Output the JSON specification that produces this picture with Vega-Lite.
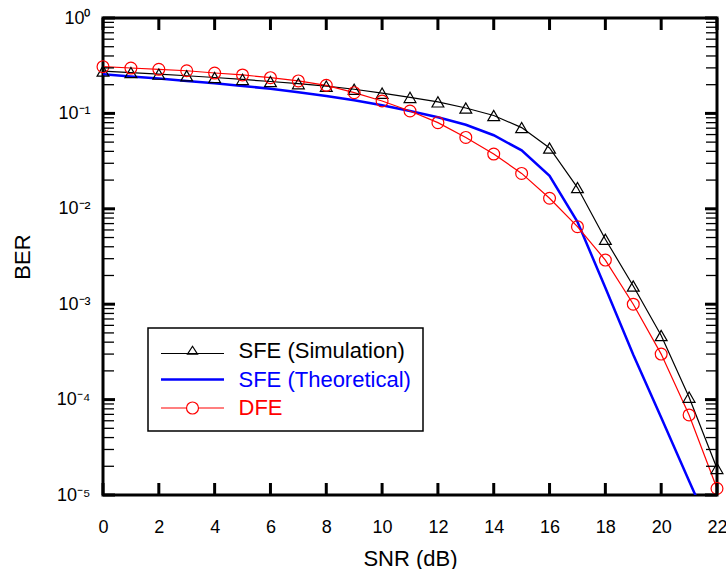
{
  "$schema": "https://vega.github.io/schema/vega-lite/v6.json",
  "width": 614,
  "height": 477,
  "autosize": {"type": "none"},
  "padding": {"left": 103, "top": 18, "right": 9, "bottom": 74},
  "background": "white",
  "config": {
    "view": {"stroke": "black", "strokeWidth": 3},
    "font": "Liberation Sans",
    "axis": {"grid": false, "domain": false, "ticks": false, "tickSize": 0, "labelFont": "Liberation Sans", "titleFont": "Liberation Sans", "labelColor": "black", "titleColor": "black", "titleFontWeight": "normal"}
  },
  "datasets": {
    "curves": [
      {"snr": 0, "ber": 0.278, "series": "SFE (Simulation)"},
      {"snr": 1, "ber": 0.268, "series": "SFE (Simulation)"},
      {"snr": 2, "ber": 0.258, "series": "SFE (Simulation)"},
      {"snr": 3, "ber": 0.248, "series": "SFE (Simulation)"},
      {"snr": 4, "ber": 0.238, "series": "SFE (Simulation)"},
      {"snr": 5, "ber": 0.227, "series": "SFE (Simulation)"},
      {"snr": 6, "ber": 0.216, "series": "SFE (Simulation)"},
      {"snr": 7, "ber": 0.205, "series": "SFE (Simulation)"},
      {"snr": 8, "ber": 0.193, "series": "SFE (Simulation)"},
      {"snr": 9, "ber": 0.179, "series": "SFE (Simulation)"},
      {"snr": 10, "ber": 0.163, "series": "SFE (Simulation)"},
      {"snr": 11, "ber": 0.147, "series": "SFE (Simulation)"},
      {"snr": 12, "ber": 0.132, "series": "SFE (Simulation)"},
      {"snr": 13, "ber": 0.114, "series": "SFE (Simulation)"},
      {"snr": 14, "ber": 0.095, "series": "SFE (Simulation)"},
      {"snr": 15, "ber": 0.071, "series": "SFE (Simulation)"},
      {"snr": 16, "ber": 0.0434, "series": "SFE (Simulation)"},
      {"snr": 17, "ber": 0.0167, "series": "SFE (Simulation)"},
      {"snr": 18, "ber": 0.0048, "series": "SFE (Simulation)"},
      {"snr": 19, "ber": 0.00155, "series": "SFE (Simulation)"},
      {"snr": 20, "ber": 0.00047, "series": "SFE (Simulation)"},
      {"snr": 21, "ber": 0.000106, "series": "SFE (Simulation)"},
      {"snr": 22, "ber": 0.000019, "series": "SFE (Simulation)"},
      {"snr": 0, "ber": 0.257, "series": "SFE (Theoretical)"},
      {"snr": 1, "ber": 0.244, "series": "SFE (Theoretical)"},
      {"snr": 2, "ber": 0.232, "series": "SFE (Theoretical)"},
      {"snr": 3, "ber": 0.219, "series": "SFE (Theoretical)"},
      {"snr": 4, "ber": 0.207, "series": "SFE (Theoretical)"},
      {"snr": 5, "ber": 0.194, "series": "SFE (Theoretical)"},
      {"snr": 6, "ber": 0.181, "series": "SFE (Theoretical)"},
      {"snr": 7, "ber": 0.167, "series": "SFE (Theoretical)"},
      {"snr": 8, "ber": 0.152, "series": "SFE (Theoretical)"},
      {"snr": 9, "ber": 0.137, "series": "SFE (Theoretical)"},
      {"snr": 10, "ber": 0.122, "series": "SFE (Theoretical)"},
      {"snr": 11, "ber": 0.106, "series": "SFE (Theoretical)"},
      {"snr": 12, "ber": 0.091, "series": "SFE (Theoretical)"},
      {"snr": 13, "ber": 0.076, "series": "SFE (Theoretical)"},
      {"snr": 14, "ber": 0.059, "series": "SFE (Theoretical)"},
      {"snr": 15, "ber": 0.041, "series": "SFE (Theoretical)"},
      {"snr": 16, "ber": 0.0222, "series": "SFE (Theoretical)"},
      {"snr": 17, "ber": 0.0073, "series": "SFE (Theoretical)"},
      {"snr": 18, "ber": 0.00149, "series": "SFE (Theoretical)"},
      {"snr": 19, "ber": 0.000295, "series": "SFE (Theoretical)"},
      {"snr": 20, "ber": 0.000065, "series": "SFE (Theoretical)"},
      {"snr": 21, "ber": 0.000014, "series": "SFE (Theoretical)"},
      {"snr": 22, "ber": 0.0000031, "series": "SFE (Theoretical)"},
      {"snr": 0, "ber": 0.309, "series": "DFE"},
      {"snr": 1, "ber": 0.299, "series": "DFE"},
      {"snr": 2, "ber": 0.29, "series": "DFE"},
      {"snr": 3, "ber": 0.28, "series": "DFE"},
      {"snr": 4, "ber": 0.265, "series": "DFE"},
      {"snr": 5, "ber": 0.253, "series": "DFE"},
      {"snr": 6, "ber": 0.237, "series": "DFE"},
      {"snr": 7, "ber": 0.219, "series": "DFE"},
      {"snr": 8, "ber": 0.197, "series": "DFE"},
      {"snr": 9, "ber": 0.165, "series": "DFE"},
      {"snr": 10, "ber": 0.135, "series": "DFE"},
      {"snr": 11, "ber": 0.106, "series": "DFE"},
      {"snr": 12, "ber": 0.08, "series": "DFE"},
      {"snr": 13, "ber": 0.056, "series": "DFE"},
      {"snr": 14, "ber": 0.0375, "series": "DFE"},
      {"snr": 15, "ber": 0.0235, "series": "DFE"},
      {"snr": 16, "ber": 0.0129, "series": "DFE"},
      {"snr": 17, "ber": 0.0065, "series": "DFE"},
      {"snr": 18, "ber": 0.0029, "series": "DFE"},
      {"snr": 19, "ber": 0.001, "series": "DFE"},
      {"snr": 20, "ber": 0.0003, "series": "DFE"},
      {"snr": 21, "ber": 0.000069, "series": "DFE"},
      {"snr": 22, "ber": 0.0000117, "series": "DFE"}
    ],
    "yticks": [
      {"ber": 1, "major": true}, {"ber": 0.9, "major": false}, {"ber": 0.8, "major": false}, {"ber": 0.7, "major": false}, {"ber": 0.6, "major": false}, {"ber": 0.5, "major": false}, {"ber": 0.4, "major": false}, {"ber": 0.3, "major": false}, {"ber": 0.2, "major": false},
      {"ber": 0.1, "major": true}, {"ber": 0.09, "major": false}, {"ber": 0.08, "major": false}, {"ber": 0.07, "major": false}, {"ber": 0.06, "major": false}, {"ber": 0.05, "major": false}, {"ber": 0.04, "major": false}, {"ber": 0.03, "major": false}, {"ber": 0.02, "major": false},
      {"ber": 0.01, "major": true}, {"ber": 0.009, "major": false}, {"ber": 0.008, "major": false}, {"ber": 0.007, "major": false}, {"ber": 0.006, "major": false}, {"ber": 0.005, "major": false}, {"ber": 0.004, "major": false}, {"ber": 0.003, "major": false}, {"ber": 0.002, "major": false},
      {"ber": 0.001, "major": true}, {"ber": 0.0009, "major": false}, {"ber": 0.0008, "major": false}, {"ber": 0.0007, "major": false}, {"ber": 0.0006, "major": false}, {"ber": 0.0005, "major": false}, {"ber": 0.0004, "major": false}, {"ber": 0.0003, "major": false}, {"ber": 0.0002, "major": false},
      {"ber": 0.0001, "major": true}, {"ber": 0.00009, "major": false}, {"ber": 0.00008, "major": false}, {"ber": 0.00007, "major": false}, {"ber": 0.00006, "major": false}, {"ber": 0.00005, "major": false}, {"ber": 0.00004, "major": false}, {"ber": 0.00003, "major": false}, {"ber": 0.00002, "major": false},
      {"ber": 0.00001, "major": true}
    ],
    "xticks": [
      {"snr": 0}, {"snr": 2}, {"snr": 4}, {"snr": 6}, {"snr": 8}, {"snr": 10}, {"snr": 12}, {"snr": 14}, {"snr": 16}, {"snr": 18}, {"snr": 20}, {"snr": 22}
    ]
  },
  "layer": [
    {
      "data": {"name": "curves"},
      "mark": {"type": "line", "clip": true},
      "encoding": {
        "x": {
          "field": "snr", "type": "quantitative",
          "scale": {"domain": [0, 22], "nice": false, "zero": false},
          "axis": {"orient": "bottom", "values": [0,2,4,6,8,10,12,14,16,18,20,22], "title": "SNR (dB)", "titleFontSize": 22, "titlePadding": 12, "labelFontSize": 18, "labelPadding": 23, "labelFlush": false, "labelOverlap": false}
        },
        "y": {
          "field": "ber", "type": "quantitative",
          "scale": {"type": "log", "domain": [0.00001, 1], "nice": false},
          "axis": {
            "orient": "left",
            "values": [1,0.1,0.01,0.001,0.0001,0.00001],
            "labelExpr": "'10' + (round(log(datum.value)/LN10) == 0 ? '⁰' : '⁻' + ['⁰','¹','²','³','⁴','⁵'][-round(log(datum.value)/LN10)])",
            "title": "BER", "titleFontSize": 22, "titlePadding": 22,
            "labelFontSize": 18, "labelPadding": 13, "labelFlush": false, "labelOverlap": false
          }
        },
        "color": {
          "field": "series", "type": "nominal",
          "scale": {"domain": ["SFE (Simulation)", "SFE (Theoretical)", "DFE"], "range": ["black", "#0000ff", "#ff0000"]},
          "legend": {
            "title": null, "orient": "none", "legendX": 45, "legendY": 310,
            "strokeColor": "black", "padding": 12, "fillColor": "white",
            "labelFontSize": 22, "labelFont": "Liberation Sans", "labelLimit": 400, "labelOffset": 35,
            "symbolSize": 3969, "symbolOffset": 21.5, "rowPadding": 6.5,
            "encode": {
              "legend": {"update": {"strokeWidth": {"value": 1.5}}},
              "symbols": {"update": {
                "shape": {"signal": "datum.value === 'DFE' ? 'M-1,0H-0.19M0.19,0H1M-0.19,0A0.19,0.19 0 1,1 0.19,0A0.19,0.19 0 1,1 -0.19,0' : datum.value === 'SFE (Simulation)' ? 'M-1,0.08H1M0,-0.15L0.16,0.1L-0.16,0.1Z' : 'M-1,0H1'"},
                "fill": {"value": "transparent"},
                "stroke": {"signal": "datum.value === 'DFE' ? '#ff0000' : datum.value === 'SFE (Theoretical)' ? '#0000ff' : 'black'"},
                "strokeWidth": {"signal": "datum.value === 'SFE (Theoretical)' ? 2.5 : 1.2"},
                "opacity": {"value": 1}
              }},
              "labels": {"update": {
                "fill": {"signal": "datum.value === 'DFE' ? '#ff0000' : datum.value === 'SFE (Theoretical)' ? '#0000ff' : 'black'"}
              }}
            }
          }
        },
        "strokeWidth": {"condition": {"test": "datum.series === 'SFE (Theoretical)'", "value": 2.5}, "value": 1.2}
      }
    },
    {
      "data": {"name": "curves"},
      "transform": [{"filter": "datum.series !== 'SFE (Theoretical)'"}],
      "mark": {"type": "point", "filled": false, "strokeWidth": 1.2, "opacity": 1},
      "encoding": {
        "x": {"field": "snr", "type": "quantitative"},
        "y": {"field": "ber", "type": "quantitative"},
        "color": {"field": "series", "type": "nominal"},
        "shape": {
          "field": "series", "type": "nominal",
          "scale": {"domain": ["SFE (Simulation)", "DFE"], "range": ["triangle-up", "circle"]},
          "legend": null
        },
        "size": {"value": 140}
      }
    },
    {
      "data": {"name": "yticks"},
      "mark": {"type": "point", "shape": "M0,0H1", "filled": false, "stroke": "black", "opacity": 1},
      "encoding": {
        "y": {"field": "ber", "type": "quantitative"},
        "x": {"datum": 0, "type": "quantitative"},
        "size": {"condition": {"test": "datum.major", "value": 576}, "value": 484},
        "strokeWidth": {"condition": {"test": "datum.major", "value": 3}, "value": 1.3}
      }
    },
    {
      "data": {"name": "yticks"},
      "mark": {"type": "point", "shape": "M0,0H-1", "filled": false, "stroke": "black", "opacity": 1},
      "encoding": {
        "y": {"field": "ber", "type": "quantitative"},
        "x": {"datum": 22, "type": "quantitative"},
        "size": {"condition": {"test": "datum.major", "value": 576}, "value": 484},
        "strokeWidth": {"condition": {"test": "datum.major", "value": 3}, "value": 1.3}
      }
    },
    {
      "data": {"name": "xticks"},
      "mark": {"type": "point", "shape": "M0,0V-1", "filled": false, "stroke": "black", "opacity": 1, "size": 576, "strokeWidth": 3},
      "encoding": {
        "x": {"field": "snr", "type": "quantitative"},
        "y": {"datum": 0.00001, "type": "quantitative"}
      }
    },
    {
      "data": {"name": "xticks"},
      "mark": {"type": "point", "shape": "M0,0V1", "filled": false, "stroke": "black", "opacity": 1, "size": 576, "strokeWidth": 3},
      "encoding": {
        "x": {"field": "snr", "type": "quantitative"},
        "y": {"datum": 1, "type": "quantitative"}
      }
    }
  ]
}
